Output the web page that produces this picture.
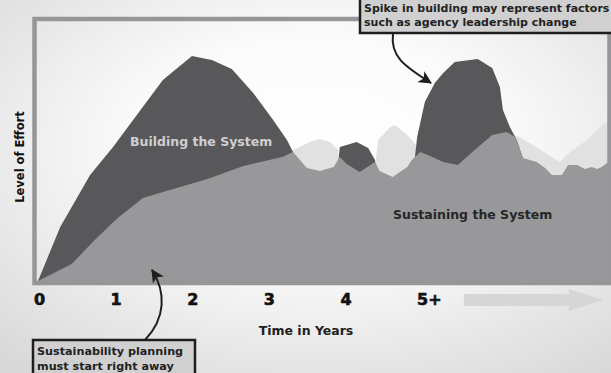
<!DOCTYPE html>
<html>
<head>
<meta charset="utf-8">
<script src="https://cdn.jsdelivr.net/npm/d3@7"></script>
<style>
  html, body { margin: 0; padding: 0; background: #ececec; }
  svg { display: block; font-family: 'DejaVu Sans', sans-serif; font-weight: bold; }
</style>
</head>
<body>
<div id="chart"></div>
<script>
// years along the bottom
const tickYears = [0, 1, 2, 3, 4, 5]
const tickLabels = ['0', '1', '2', '3', '4', '5+']

// "Sustaining the System" level of effort (0-100)
const sustainYears = [0, 0.44, 0.74, 1.04, 1.37, 1.72, 2.08, 2.25, 2.68, 3.19, 3.33, 3.51, 3.68, 3.86, 3.94, 4.03, 4.2, 4.4, 4.46, 4.63, 4.82, 4.88, 4.99, 5.12, 5.29, 5.48, 5.7, 5.93, 6.12, 6.23, 6.33, 6.51, 6.62, 6.71, 6.84, 6.92, 7.04, 7.14, 7.23, 7.3, 7.36, 7.48]
const sustainEffort = [0, 6.5, 15.8, 24.2, 31.9, 35, 38.1, 39.6, 44.2, 47.7, 49.6, 43.5, 42.3, 43.8, 47.7, 45, 41.9, 45.8, 42.3, 40, 43.8, 46.5, 49.6, 48.1, 45.8, 44.6, 50.4, 56.2, 57.3, 55.4, 47.3, 45.8, 43.5, 40.8, 40.8, 44.6, 44.6, 43.1, 43.8, 43.1, 43.8, 46.5]

// "Building the System" level of effort, dark peaks
const buildYears = [0, 0.29, 0.68, 0.98, 1.29, 1.63, 2.01, 2.27, 2.53, 2.81, 3.07, 3.25, 3.33, 3.38, 3.89, 3.94, 4.16, 4.31, 4.4, 4.44, 4.88, 4.95, 5.05, 5.18, 5.29, 5.44, 5.74, 5.93, 6.03, 6.07, 6.16, 6.25, 6.33, 6.38, 7.48]
const buildEffort = [0, 20.8, 40.8, 51.5, 63.8, 77.3, 86.5, 85, 81.5, 72.3, 61.9, 54.2, 49.6, 36.9, 36.9, 51.5, 53.5, 51.2, 46.5, 36.9, 36.9, 55.4, 68.8, 76.2, 80, 84.2, 85.4, 81.9, 74.6, 65.8, 59.2, 54.2, 47.3, 35, 35]

// lighter building effort showing between the peaks
const echoYears = [3.22, 3.33, 3.55, 3.68, 3.81, 3.92, 3.94, 4.39, 4.44, 4.6, 4.66, 4.82, 4.88, 4.99, 6.1, 6.29, 6.81, 6.95, 7.17, 7.36, 7.48]
const echoEffort = [31.2, 50.4, 53.5, 54.6, 53.5, 50.4, 40.8, 40.8, 54.2, 59.2, 60, 56.2, 54.2, 50.4, 57.3, 55.4, 45.8, 49.6, 54.2, 60, 61.5]

const width = 611
const height = 373

const svg = d3
  .select('#chart')
  .append('svg')
  .attr('width', width)
  .attr('height', height)

const defs = svg.append('defs')

const bg = defs
  .append('radialGradient')
  .attr('id', 'bg')
  .attr('cx', '52%')
  .attr('cy', '40%')
  .attr('r', '75%')
bg.append('stop').attr('offset', '0%').attr('stop-color', '#ffffff')
bg.append('stop').attr('offset', '40%').attr('stop-color', '#fbfbfb')
bg.append('stop').attr('offset', '100%').attr('stop-color', '#d9d9d9')

defs
  .append('marker')
  .attr('id', 'head')
  .attr('viewBox', '0 0 12 12')
  .attr('refX', 11)
  .attr('refY', 6)
  .attr('markerWidth', 13)
  .attr('markerHeight', 13)
  .attr('markerUnits', 'userSpaceOnUse')
  .attr('orient', 'auto')
  .append('path')
  .attr('d', 'M0,0 L12,6 L0,12 L3,6 Z')
  .attr('fill', '#1e1e1e')

svg
  .append('rect')
  .attr('width', width)
  .attr('height', height)
  .attr('fill', 'url(#bg)')

const xPositionScale = d3
  .scaleLinear()
  .domain([0, 7.5])
  .range([38, 612.5])

const yPositionScale = d3
  .scaleLinear()
  .domain([0, 100])
  .range([281, 21])

function areaFor(years, values) {
  return d3
    .area()
    .x((d, i) => xPositionScale(years[i]))
    .y0(yPositionScale(0))
    .y1((d, i) => yPositionScale(values[i]))(values)
}

svg
  .append('path')
  .attr('d', areaFor(echoYears, echoEffort))
  .attr('fill', '#e1e1e2')

svg
  .append('path')
  .attr('d', areaFor(buildYears, buildEffort))
  .attr('fill', '#58585b')

svg
  .append('path')
  .attr('d', areaFor(sustainYears, sustainEffort))
  .attr('fill', '#98989a')

// frame round the plot
svg
  .append('rect')
  .attr('x', 34.5)
  .attr('y', 19)
  .attr('width', 575)
  .attr('height', 264)
  .attr('fill', 'none')
  .attr('stroke', '#969698')
  .attr('stroke-width', 4.5)

svg
  .append('text')
  .attr('x', 130)
  .attr('y', 146)
  .attr('font-size', 12.5)
  .attr('fill', '#cfcfd0')
  .text('Building the System')

svg
  .append('text')
  .attr('x', 393)
  .attr('y', 219)
  .attr('font-size', 12.5)
  .attr('fill', '#262626')
  .text('Sustaining the System')

// x axis, labels only
const xAxis = d3
  .axisBottom(xPositionScale)
  .tickValues(tickYears)
  .tickFormat((d, i) => tickLabels[i])
  .tickSize(0)

const xAxisG = svg
  .append('g')
  .attr('class', 'axis x-axis')
  .attr('transform', 'translate(0,283)')
  .call(xAxis)
xAxisG.select('.domain').remove()
xAxisG
  .selectAll('text')
  .attr('x', -4.5)
  .attr('y', 22)
  .attr('dy', 0)
  .attr('text-anchor', 'start')
  .attr('font-family', 'DejaVu Sans')
  .attr('font-weight', 'bold')
  .attr('font-size', 16)
  .attr('fill', '#111')
  .attr('stroke', '#111')
  .attr('stroke-width', 0.6)

// light arrow after 5+
const ax0 = xPositionScale(5.56)
const ax1 = xPositionScale(6.93)
const ax2 = xPositionScale(7.38)
svg
  .append('path')
  .attr('d', `M${ax0},294 L${ax1},294 L${ax1},289 L${ax2},300 L${ax1},311 L${ax1},306 L${ax0},306 Z`)
  .attr('fill', '#d6d6d7')

svg
  .append('text')
  .attr('x', 306)
  .attr('y', 335)
  .attr('text-anchor', 'middle')
  .attr('font-size', 12.5)
  .attr('fill', '#1e1e1e')
  .text('Time in Years')

svg
  .append('text')
  .attr('transform', 'translate(23.5,157) rotate(-90)')
  .attr('text-anchor', 'middle')
  .attr('font-size', 11.5)
  .attr('fill', '#111')
  .text('Level of Effort')

// annotation arrows
svg
  .append('path')
  .attr('d', 'M393,34 C390,56 404,66 431,83')
  .attr('fill', 'none')
  .attr('stroke', '#1e1e1e')
  .attr('stroke-width', 2)
  .attr('marker-end', 'url(#head)')

svg
  .append('path')
  .attr('d', 'M145,340 C166,318 166,292 152,270')
  .attr('fill', 'none')
  .attr('stroke', '#1e1e1e')
  .attr('stroke-width', 2)
  .attr('marker-end', 'url(#head)')

// annotation boxes
svg
  .append('rect')
  .attr('x', 360)
  .attr('y', -5)
  .attr('width', 260)
  .attr('height', 38)
  .attr('fill', '#d0d0d1')
  .attr('stroke', '#1e1e1e')
  .attr('stroke-width', 2.5)

const topNote = ['Spike in building may represent factors', 'such as agency leadership change']
svg
  .selectAll('.top-note')
  .data(topNote)
  .enter()
  .append('text')
  .attr('class', 'top-note')
  .attr('x', 364)
  .attr('y', (d, i) => 11.5 + i * 14.5)
  .attr('font-size', 11)
  .attr('fill', '#222')
  .text(d => d)

svg
  .append('rect')
  .attr('x', 33)
  .attr('y', 340)
  .attr('width', 162)
  .attr('height', 40)
  .attr('fill', '#d0d0d1')
  .attr('stroke', '#1e1e1e')
  .attr('stroke-width', 2.5)

const bottomNote = ['Sustainability planning', 'must start right away']
svg
  .selectAll('.bottom-note')
  .data(bottomNote)
  .enter()
  .append('text')
  .attr('class', 'bottom-note')
  .attr('x', 37)
  .attr('y', (d, i) => 355 + i * 14.5)
  .attr('font-size', 11.2)
  .attr('fill', '#222')
  .text(d => d)
</script>
</body>
</html>
